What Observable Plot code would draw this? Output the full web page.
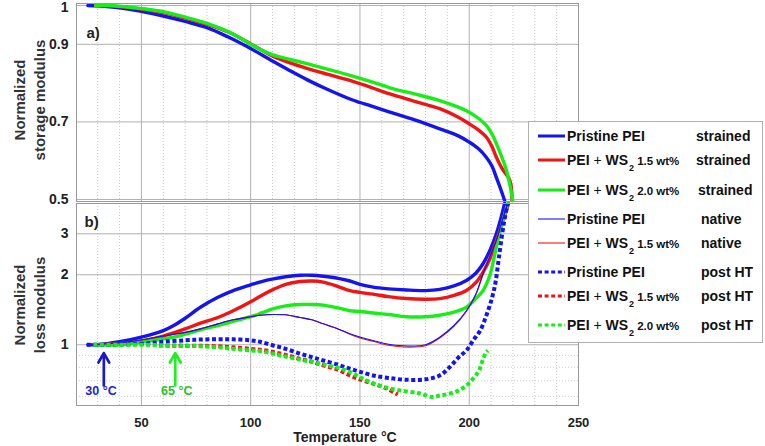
<!DOCTYPE html>
<html><head><meta charset="utf-8">
<script src="https://cdn.jsdelivr.net/npm/d3@7"></script>
<script src="https://cdn.jsdelivr.net/npm/@observablehq/plot@0.6"></script>
<style>
body{margin:0;background:#fff;font-family:"Liberation Sans",Arial,sans-serif;}
#wrap{position:relative;width:765px;height:446px;overflow:hidden;background:#fff;}
.pl{position:absolute;left:0;}
.ytitle{position:absolute;width:160px;height:40px;transform:rotate(-90deg);font-weight:bold;font-size:15px;color:#333;text-align:center;line-height:20px;white-space:nowrap;}
#xtitle{position:absolute;left:245px;width:200px;top:429px;text-align:center;font-weight:bold;font-size:14px;color:#222;}
#legend{position:absolute;left:528px;top:121px;width:235px;height:222px;border:1px solid #b0b0b0;background:#fff;box-sizing:border-box;}
.lrow{position:absolute;left:0;height:20px;width:235px;font-weight:bold;font-size:14px;color:#111;}
.lrow svg{position:absolute;left:9px;top:5px;}
.lname{position:absolute;left:38px;top:2px;white-space:nowrap;}
.lstate{position:absolute;top:2px;white-space:nowrap;}
.plus{font-weight:normal;}
.sub{font-size:9px;position:relative;top:6px;margin-left:1px;margin-right:3px;}
.wt{font-size:11.5px;}
</style></head>
<body><div id="wrap"></div>
<script>
// ---------- data ----------
const tempTicks = [50, 100, 150, 200, 250];
const tempMinor = [30, 40, 60, 70, 80, 90, 110, 120, 130, 140, 160, 170, 180, 190, 210, 220, 230, 240];
const storageTicks = [0.5, 0.7, 0.9, 1];
const lossTicks = [1, 2, 3];
const lossMinor = [0.6, 0.7, 0.8, 0.9];

// storage modulus (panel a), [temperature, value]
const storageBlueStrained = [[25.5,1.0],[30,0.999],[40,0.994],[50,0.985],[60,0.973],[70,0.959],[80,0.943],[90,0.918],[100,0.889],[110,0.857],[118,0.832],[125.7,0.809],[135,0.784],[145.4,0.759],[150,0.750],[155,0.741],[163.7,0.725],[175,0.705],[186.5,0.682],[195,0.664],[200,0.648],[204,0.632],[207.8,0.609],[210.5,0.585],[212.4,0.557],[214.5,0.525],[216.2,0.497]];
const storageRedStrained = [[29,1.0],[35,0.999],[40,0.997],[50,0.991],[60,0.982],[70,0.968],[80,0.952],[90,0.931],[95,0.917],[100,0.901],[105,0.885],[110.4,0.869],[118,0.852],[125.7,0.838],[135,0.823],[145.4,0.807],[155,0.789],[163.7,0.772],[175,0.753],[186.5,0.734],[195,0.712],[200,0.695],[204,0.680],[207.8,0.661],[210.5,0.635],[212.4,0.609],[215,0.580],[218.6,0.549],[219.6,0.497]];
const storageGreenStrained = [[29,1.0],[35,1.0],[40,0.998],[50,0.992],[60,0.984],[70,0.970],[80,0.954],[90,0.932],[95,0.917],[100,0.900],[105,0.885],[110.4,0.872],[118,0.861],[125.7,0.850],[135,0.836],[145.4,0.820],[155,0.804],[163.7,0.788],[175,0.772],[186.5,0.755],[195,0.738],[200,0.725],[204,0.710],[207.8,0.691],[210.5,0.668],[212.4,0.644],[214.5,0.615],[216.6,0.583],[218.5,0.540],[219.9,0.497]];

// loss modulus (panel b)
const lossBlueStrained = [[25.5,1.0],[30,1.0],[40,1.03],[50,1.078],[60,1.15],[64.8,1.21],[70,1.30],[77,1.45],[85,1.60],[92,1.71],[100,1.81],[105,1.87],[110.4,1.92],[116,1.96],[122.6,1.99],[128,1.99],[133.2,1.97],[140,1.93],[145.4,1.88],[150,1.82],[156,1.77],[163,1.74],[171.3,1.72],[180,1.71],[186.5,1.73],[193,1.79],[198.7,1.89],[203,2.03],[206.3,2.23],[209.5,2.55],[212.4,3.0],[214.5,3.5],[216.2,4.05]];
const lossRedStrained = [[29,1.0],[40,1.01],[50,1.036],[60,1.09],[70,1.17],[77,1.24],[85,1.31],[92,1.40],[100,1.53],[105,1.63],[110.4,1.73],[116,1.82],[122.6,1.87],[128,1.88],[133.2,1.86],[140,1.78],[145.4,1.71],[150,1.68],[156,1.65],[163,1.61],[171.3,1.58],[180,1.57],[186.5,1.58],[193,1.63],[198.7,1.71],[203,1.85],[206.3,2.05],[209.5,2.35],[212.4,2.81],[215,3.3],[218,4.05]];
const lossGreenStrained = [[29,1.0],[40,1.0],[50,1.026],[60,1.06],[64.8,1.078],[70,1.11],[77,1.16],[85,1.21],[92,1.26],[100,1.32],[105,1.37],[110.4,1.43],[116,1.47],[122.6,1.49],[128,1.49],[133.2,1.48],[140,1.44],[145.4,1.40],[150,1.39],[156,1.37],[163,1.35],[171.3,1.32],[180,1.32],[186.5,1.34],[193,1.38],[198.7,1.45],[203,1.58],[206.3,1.71],[209.5,2.0],[212.4,2.63],[215,3.3],[217.6,4.05]];
const lossBlueNative = [[25.5,1.0],[40,1.02],[50,1.05],[60,1.09],[70,1.13],[77,1.17],[85,1.23],[92,1.28],[100,1.32],[104.3,1.34],[110.4,1.35],[116,1.345],[122.6,1.31],[128,1.28],[133.2,1.23],[140,1.17],[145.4,1.115],[150,1.08],[156,1.043],[163,1.005],[170,0.99],[177,0.99],[180,1.0],[186.5,1.078],[193,1.21],[198.7,1.40],[203,1.65],[206.3,2.02],[209.5,2.4],[212.4,2.81],[215,3.4],[217.6,4.05]];
const lossRedNative = [[25.5,1.0],[40,1.02],[50,1.05],[60,1.09],[70,1.13],[77,1.17],[85,1.23],[92,1.28],[100,1.32],[104.3,1.34],[110.4,1.35],[116,1.345],[122.6,1.31],[128,1.28],[133.2,1.23],[140,1.17],[145.4,1.11],[150,1.07],[156,1.035],[163,0.995],[170,0.978],[177,0.98],[180,0.99],[186.5,1.07],[193,1.20],[198.7,1.39],[203,1.64],[206.3,2.0],[209.5,2.38],[212.4,2.8],[215,3.4],[217.8,4.05]];
const lossBluePostHT = [[25,1.0],[35,1.0],[50,1.01],[60,1.03],[70,1.045],[77,1.053],[85,1.057],[92,1.055],[100,1.045],[104.3,1.03],[110.4,0.993],[116,0.96],[122.6,0.915],[128,0.885],[133.2,0.856],[140,0.82],[145.4,0.789],[150,0.765],[156,0.738],[163,0.72],[171.3,0.707],[180,0.71],[186.5,0.738],[191,0.80],[195,0.88],[198.7,0.945],[202,1.05],[205,1.15],[208,1.35],[210.5,1.60],[212,1.85],[213.6,2.38],[215.8,3.31],[217.6,4.05]];
const lossRedPostHT = [[58,0.993],[65,0.99],[77,0.99],[85,0.985],[92,0.975],[100,0.96],[104.3,0.952],[110.4,0.93],[116,0.905],[122.6,0.87],[128,0.845],[133.2,0.815],[140,0.78],[145.4,0.738],[150,0.71],[156,0.68],[162,0.65],[167.3,0.611]];
const lossGreenPostHT = [[28,1.0],[40,1.0],[50,1.0],[60,0.995],[70,0.99],[77,0.985],[85,0.975],[92,0.96],[100,0.945],[104.3,0.94],[110.4,0.915],[116,0.89],[122.6,0.863],[128,0.845],[133.2,0.823],[140,0.795],[145.4,0.763],[150,0.725],[156,0.683],[163,0.65],[171.3,0.63],[178,0.616],[183,0.596],[186.5,0.605],[191,0.616],[195,0.635],[198.7,0.668],[202,0.72],[204.5,0.776],[206,0.85],[207.5,0.92],[208.6,0.945]];

// annotations
const arrowTemps = [32.8, 65.5];
const arrowLabels = ["30 °C", "65 °C"];
const arrowColors = ["#1a1ac8", "#22ee22"];
const arrowTextColors = ["#2222dd", "#2cc02c"];
const arrowTextTemps = [31.5, 66.2];
const arrowFrom = 0.668, arrowTo = 0.92, arrowTextLevel = 0.630;

// legend
const legendNames = ["Pristine PEI", "PEI + WS|1.5 wt%", "PEI + WS|2.0 wt%", "Pristine PEI", "PEI + WS|1.5 wt%", "Pristine PEI", "PEI + WS|1.5 wt%", "PEI + WS|2.0 wt%"];
const legendStates = ["strained", "strained", "strained", "native", "native", "post HT", "post HT", "post HT"];

const BLUE = "#1414f2", RED = "#f01414", GREEN = "#16ee16";
const legendColors = [BLUE, RED, GREEN, BLUE, RED, BLUE, RED, GREEN];
const legendStyles = ["thick", "thick", "thick", "thin", "thin", "dot", "dot", "dot"];

// ---------- helpers ----------
const rows = arr => arr.map(([T, v]) => ({T, v}));
const styleOf = {
  thick: {strokeWidth: 3.4},
  thin: {strokeWidth: 1.1},
  dot: {strokeWidth: 4, strokeDasharray: "4,2.6", strokeLinecap: "butt"}
};
const lineMark = (arr, color, kind) => Plot.line(rows(arr), {x: "T", y: "v", stroke: color, curve: "catmull-rom", strokeLinejoin: "round", ...styleOf[kind]});

const xDomain = [20.3, 250];
const FONT = "'Liberation Sans', Arial, sans-serif";
const wrap = document.getElementById("wrap");
const tickStyle = {tickSize: 0, tickPadding: 8, fontSize: 14, fontWeight: "bold", fill: "#222", tickFormat: d => String(d), label: null};

// ---------- panel a ----------
const p1 = Plot.plot({
  width: 765, height: 202, marginLeft: 76, marginRight: 187, marginTop: 3, marginBottom: 1,
  x: {domain: xDomain, axis: null},
  y: {domain: [0.4948, 1.0052], axis: null},
  style: {fontFamily: FONT, background: "transparent", overflow: "visible"},
  marks: [
    Plot.ruleX(tempMinor, {stroke: "#c8c8c8", strokeDasharray: "1,2"}),
    Plot.ruleX(tempTicks.slice(0, 4), {stroke: "#b0b0b0"}),
    Plot.ruleY(storageTicks, {stroke: "#b0b0b0"}),
    Plot.axisY(storageTicks.slice(0, 3), tickStyle),
    Plot.axisY(storageTicks.slice(3), {...tickStyle, dy: 2}),
    lineMark(storageBlueStrained, BLUE, "thick"),
    lineMark(storageRedStrained, RED, "thick"),
    lineMark(storageGreenStrained, GREEN, "thick"),
    Plot.text(["a)"], {frameAnchor: "top-left", dx: 10, dy: 24, text: d => d, fontSize: 15, fontWeight: "bold", fill: "#222", textAnchor: "start"}),
    Plot.frame({stroke: "#999"})
  ]
});
p1.classList.add("pl"); p1.style.top = "0px";
wrap.appendChild(p1);

// ---------- panel b ----------
const arrows = arrowTemps.map((T, i) => ({T, tT: arrowTextTemps[i], label: arrowLabels[i], color: arrowColors[i], tcolor: arrowTextColors[i]}));
const p2 = Plot.plot({
  width: 765, height: 244, marginLeft: 76, marginRight: 187, marginTop: 1, marginBottom: 41,
  x: {domain: xDomain, axis: null},
  y: {type: "log", domain: [0.548, 4.05], axis: null},
  color: {type: "identity"},
  style: {fontFamily: FONT, background: "transparent", overflow: "visible"},
  marks: [
    Plot.ruleX(tempMinor, {stroke: "#c8c8c8", strokeDasharray: "1,2"}),
    Plot.ruleY(lossMinor, {stroke: "#d0d0d0", strokeDasharray: "1,2"}),
    Plot.ruleX(tempTicks.slice(0, 4), {stroke: "#b0b0b0"}),
    Plot.ruleY(lossTicks, {stroke: "#b0b0b0"}),
    Plot.axisY(lossTicks, tickStyle),
    Plot.axisX(tempTicks, {...tickStyle, tickPadding: 12, fontSize: 13}),
    lineMark(lossBlueStrained, BLUE, "thick"),
    lineMark(lossRedStrained, RED, "thick"),
    lineMark(lossGreenStrained, GREEN, "thick"),
    lineMark(lossRedNative, RED, "thin"),
    lineMark(lossBlueNative, BLUE, "thin"),
    lineMark(lossBluePostHT, BLUE, "dot"),
    lineMark(lossRedPostHT, RED, "dot"),
    lineMark(lossGreenPostHT, GREEN, "dot"),
    Plot.arrow(arrows, {x1: "T", x2: "T", y1: () => arrowFrom, y2: () => arrowTo, stroke: "color", strokeWidth: 2.7, headLength: 12, headAngle: 60}),
    Plot.text(arrows, {x: "tT", y: () => arrowTextLevel, text: "label", fill: "tcolor", fontSize: 12.5, fontWeight: "bold"}),
    Plot.text(["b)"], {frameAnchor: "top-left", dx: 8, dy: 13, text: d => d, fontSize: 15, fontWeight: "bold", fill: "#222", textAnchor: "start"}),
    Plot.frame({stroke: "#999"})
  ]
});
p2.classList.add("pl"); p2.style.top = "202px";
wrap.appendChild(p2);

// ---------- titles ----------
function ytitle(lines, cx, cy) {
  const d = document.createElement("div");
  d.className = "ytitle";
  d.innerHTML = lines.join("<br>");
  d.style.left = (cx - 80) + "px";
  d.style.top = (cy - 20) + "px";
  wrap.appendChild(d);
}
ytitle(["Normalized", "storage modulus"], 30, 100);
ytitle(["Normalized", "loss modulus"], 30, 305);
const xt = document.createElement("div");
xt.id = "xtitle"; xt.textContent = "Temperature °C";
wrap.appendChild(xt);

// ---------- legend ----------
const lg = document.createElement("div");
lg.id = "legend";
const rowY = [14, 38, 68, 97, 121, 150, 174, 203];
const stateX = [167, 167, 169, 172, 172, 172, 172, 172];
legendNames.forEach((name, i) => {
  const r = document.createElement("div");
  r.className = "lrow";
  r.style.top = (rowY[i] - 10) + "px";
  const st = styleOf[legendStyles[i]];
  const sw = st.strokeWidth;
  const svg = `<svg width="28" height="10"><line x1="0" x2="27" y1="5" y2="5" stroke="${legendColors[i]}" stroke-width="${Math.min(sw, 3)}" ${st.strokeDasharray ? `stroke-dasharray="${st.strokeDasharray}"` : ""}/></svg>`;
  let label;
  if (name.includes("|")) {
    const [a, b] = name.split("|");
    label = a.replace("+", '<span class="plus">+</span>') + `<span class="sub">2</span><span class="wt">${b}</span>`;
  } else label = name;
  r.innerHTML = svg + `<span class="lname">${label}</span><span class="lstate" style="left:${stateX[i]}px">${legendStates[i]}</span>`;
  lg.appendChild(r);
});
wrap.appendChild(lg);
</script>
</body></html>
